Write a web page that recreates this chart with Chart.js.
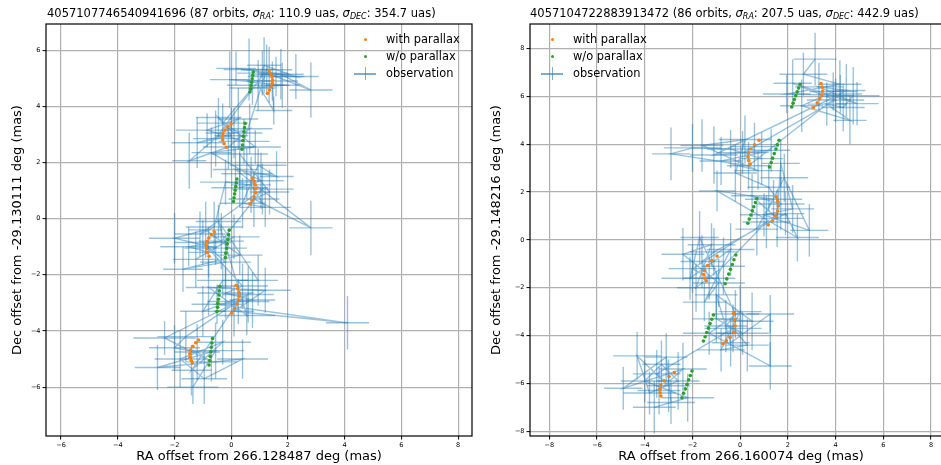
<!DOCTYPE html>
<html>
<head>
<meta charset="utf-8">
<script src="https://cdn.jsdelivr.net/npm/chart.js@4/dist/chart.umd.min.js"></script>
<style>
body{margin:0;background:#fff;width:941px;height:465px;overflow:hidden;position:relative;font-family:'DejaVu Sans',sans-serif;color:#000;}
.pane{position:absolute;top:0;width:480px;height:465px;}
.ttl{position:absolute;top:5px;font-size:11.5px;line-height:16px;white-space:nowrap;}
.ttl sub{font-size:8px;vertical-align:-2px;line-height:0;}
.leg{position:absolute;top:31px;font-size:11.4px;}
.leg .row{position:relative;height:17px;line-height:17px;width:130px;}
.leg .dot{position:absolute;left:9.5px;top:7px;width:3px;height:3px;border-radius:50%;}
.leg .lbl{position:absolute;left:32px;top:0;white-space:nowrap;}
.leg .hl{position:absolute;left:0;top:8px;width:22px;height:1.5px;background:rgba(31,119,180,0.6);}
.leg .vl{position:absolute;left:10.5px;top:2px;width:1.5px;height:13px;background:rgba(31,119,180,0.6);}
</style>
</head>
<body>
<div class="pane" style="left:0"><canvas id="cL" width="480" height="465"></canvas></div>
<div class="pane" style="left:480px"><canvas id="cR" width="480" height="465"></canvas></div>

<div class="ttl" style="left:47px">4057107746540941696 (87 orbits, <i>σ</i><sub><i>RA</i></sub>: 110.9 uas, <i>σ</i><sub><i>DEC</i></sub>: 354.7 uas)</div>
<div class="ttl" style="left:530px">4057104722883913472 (86 orbits, <i>σ</i><sub><i>RA</i></sub>: 207.5 uas, <i>σ</i><sub><i>DEC</i></sub>: 442.9 uas)</div>

<div class="leg" style="left:354px">
  <div class="row"><span class="dot" style="background:#ff7f0e"></span><span class="lbl">with parallax</span></div>
  <div class="row"><span class="dot" style="background:#2ca02c"></span><span class="lbl">w/o parallax</span></div>
  <div class="row"><span class="hl"></span><span class="vl"></span><span class="lbl">observation</span></div>
</div>
<div class="leg" style="left:541px">
  <div class="row"><span class="dot" style="background:#ff7f0e"></span><span class="lbl">with parallax</span></div>
  <div class="row"><span class="dot" style="background:#2ca02c"></span><span class="lbl">w/o parallax</span></div>
  <div class="row"><span class="hl"></span><span class="vl"></span><span class="lbl">observation</span></div>
</div>

<script>
// ===== left panel: 4057107746540941696 =====
const obsRA_L = [1.10,1.34,0.63,1.58,2.81,1.75,0.17,2.28,1.16,0.95,1.50,1.45,-0.05,1.80,0.75,
  -0.30,0.10,-0.55,1.25,0.45,-0.85,0.25,-1.48,-0.10,0.65,-1.20,0.00,-0.45,0.85,-0.70,
  0.55,1.05,0.30,0.30,1.35,0.80,2.81,0.15,1.60,0.95,0.40,1.20,0.70,-0.20,
  -0.60,-1.10,1.10,-0.35,-1.50,-0.80,0.10,-1.25,-0.55,-2.00,-0.90,0.30,-1.70,-0.20,-1.00,
  0.40,-0.20,0.75,-0.50,4.10,0.10,1.20,-0.80,0.55,-0.45,0.95,-0.30,-1.00,0.60,
  -1.60,-2.00,-1.20,-0.70,-2.35,0.25,-1.40,-0.30,-1.80,-0.95,0.40,-2.60,-0.55,-1.35];
const obsDec_L = [5.18,5.12,5.31,5.06,4.58,5.14,5.35,5.06,5.46,4.75,3.85,4.90,4.95,4.75,4.65,
  3.40,3.05,2.85,5.30,2.75,3.15,3.55,2.06,2.55,3.20,2.70,2.95,3.60,2.55,2.35,
  1.60,1.35,1.10,2.30,0.95,0.70,-0.33,1.75,1.50,1.90,0.55,0.40,1.20,1.30,
  -0.30,-0.55,1.05,-0.80,-1.00,-1.20,-0.65,-1.45,-1.05,-0.70,-0.40,-1.30,-1.80,-1.55,-0.85,
  -2.40,-2.65,-2.90,-3.05,-3.71,-3.30,-2.55,-2.45,-3.45,-0.10,-2.20,-2.20,-3.30,-2.70,
  -4.20,-4.60,-4.75,-5.10,-4.25,-2.95,-5.40,-4.40,-5.00,-5.70,-5.00,-5.30,-4.70,-6.00];
const errRA_L = [0.9,0.7,0.9,1.0,0.76,0.8,0.7,0.8,0.6,1.1,0.65,0.9,0.7,0.6,0.8,
  0.9,1.0,0.8,0.9,0.9,1.1,0.7,0.6,0.9,0.8,0.9,0.6,0.8,0.9,0.7,
  0.9,0.8,1.0,1.0,0.7,0.9,0.76,0.8,0.6,1.0,0.8,0.9,0.7,0.9,
  1.0,0.9,1.1,0.8,1.0,0.7,0.9,0.8,1.1,0.9,0.6,0.8,0.7,0.9,1.0,
  0.9,1.0,0.8,0.9,0.76,0.7,0.9,0.8,1.0,0.8,0.7,0.9,0.8,0.9,
  1.0,0.9,0.8,0.9,1.1,1.1,0.7,1.0,0.9,0.8,0.9,0.8,1.0,0.9];
const errDec_L = [0.8,1.0,1.1,0.7,0.98,0.9,0.6,0.8,1.0,0.9,0.5,0.7,1.0,0.8,0.6,
  0.7,0.9,1.0,0.9,0.8,0.6,1.1,1.0,0.8,0.9,0.9,1.0,0.7,0.6,0.9,
  0.9,1.0,0.7,0.7,0.8,1.0,0.97,0.8,0.9,0.6,0.9,0.7,1.0,0.8,
  0.9,0.8,0.9,1.0,0.7,0.9,0.8,1.0,0.6,0.9,1.0,0.7,0.8,0.9,0.8,
  0.8,0.9,1.0,0.7,0.95,0.9,0.8,1.0,0.7,0.6,0.9,0.6,0.9,1.0,
  0.9,0.8,1.0,0.7,0.6,0.8,0.9,0.8,1.0,0.9,0.7,0.8,1.0,0.6];
const plxRA_L = [1.34,1.40,1.44,1.46,1.45,1.41,1.35,1.28, -0.01,-0.12,-0.22,-0.29,-0.31,-0.30,-0.25,-0.17,
  0.75,0.81,0.85,0.87,0.86,0.81,0.74,0.66, -0.60,-0.70,-0.79,-0.85,-0.88,-0.87,-0.83,-0.78,
  0.17,0.23,0.27,0.28,0.26,0.20,0.12,0.02, -1.15,-1.25,-1.35,-1.43,-1.46,-1.45,-1.41,-1.37];
const plxDec_L = [5.26,5.15,5.04,4.93,4.82,4.70,4.58,4.46, 3.37,3.27,3.15,3.03,2.92,2.80,2.67,2.54,
  1.44,1.33,1.20,1.07,0.93,0.78,0.65,0.53, -0.47,-0.57,-0.69,-0.81,-0.95,-1.08,-1.21,-1.34,
  -2.38,-2.50,-2.63,-2.76,-2.90,-3.05,-3.21,-3.37, -4.32,-4.42,-4.55,-4.68,-4.81,-4.94,-5.05,-5.14];
const noPlxRA_L = [0.78,0.76,0.74,0.72,0.70,0.68,0.66, 0.49,0.47,0.45,0.43,0.41,0.40,0.38,
  0.20,0.18,0.16,0.14,0.12,0.10,0.08, -0.07,-0.09,-0.12,-0.14,-0.16,-0.19,-0.21,
  -0.40,-0.42,-0.43,-0.45,-0.47,-0.48,-0.50, -0.66,-0.68,-0.70,-0.72,-0.74,-0.76,-0.78];
const noPlxDec_L = [5.22,5.10,4.98,4.86,4.74,4.62,4.51, 3.39,3.24,3.09,2.93,2.78,2.62,2.47,
  1.41,1.28,1.14,1.01,0.88,0.74,0.61, -0.41,-0.57,-0.74,-0.90,-1.06,-1.23,-1.39,
  -2.42,-2.57,-2.72,-2.87,-3.01,-3.16,-3.31, -4.27,-4.43,-4.58,-4.74,-4.90,-5.05,-5.21];

// ===== right panel: 4057104722883913472 =====
const obsRA_R = [3.14,2.65,4.18,1.95,4.74,4.32,3.63,4.60,2.58,3.90,4.45,3.30,4.90,2.20,4.00,
  0.60,0.10,0.90,-0.40,-2.00,-2.90,0.35,4.20,-1.10,1.30,-0.80,0.75,-1.60,0.20,-0.20,
  1.20,1.70,0.50,1.55,1.70,2.20,1.00,2.90,1.85,0.70,1.40,-0.97,2.40,1.90,
  -1.10,-1.60,-1.30,-2.00,1.10,-0.70,-1.85,-1.20,-2.40,-0.90,-1.50,-0.40,-2.10,-1.70,
  -0.20,-0.60,0.10,-1.00,0.50,-1.00,-0.40,1.26,1.26,-1.30,0.00,-0.80,0.30,-0.30,
  -3.50,-3.00,-4.32,-3.80,-2.60,-3.30,-4.00,-2.20,-3.60,-2.90,-3.10,-4.90,-2.40,-3.40];
const obsDec_R = [7.56,6.93,6.51,6.10,6.03,5.54,5.68,5.00,5.61,6.20,6.25,6.40,5.70,6.55,5.85,
  3.90,3.65,3.40,3.80,3.85,3.60,3.10,6.10,3.55,3.75,3.30,2.90,3.95,4.20,2.80,
  2.20,1.50,1.85,0.90,3.20,1.30,1.05,0.40,2.60,0.45,1.70,2.05,0.10,1.10,
  -0.50,-0.90,-1.60,-1.20,0.75,-1.10,-2.00,-0.20,-0.60,-1.80,-2.60,-0.40,-1.60,0.10,
  -3.10,-3.60,-3.90,-3.30,-3.40,-2.30,-4.30,-3.10,-5.27,-3.90,-3.00,-4.60,-4.40,-3.70,
  -5.60,-6.10,-4.85,-6.40,-5.90,-5.20,-5.90,-6.60,-7.00,-6.80,-4.90,-6.20,-5.40,-6.30];
const errRA_R = [0.9,1.0,0.9,1.0,1.1,0.9,0.8,0.7,0.9,1.0,0.8,1.0,0.9,0.8,1.2,
  1.0,1.1,0.9,1.0,1.2,0.8,0.9,0.9,1.0,0.8,0.9,1.0,0.9,1.1,0.9,
  0.9,1.0,0.9,1.1,0.8,0.9,1.0,0.8,1.0,0.9,1.2,0.75,0.9,0.8,
  1.0,0.9,1.1,1.0,1.0,0.9,0.8,1.0,0.9,1.1,0.9,1.0,1.2,0.8,
  1.0,0.9,1.1,1.0,0.9,0.9,0.8,1.0,0.9,1.1,0.9,1.0,0.9,1.2,
  1.0,0.9,1.0,1.1,0.9,0.8,1.0,1.1,0.9,1.0,0.9,0.8,1.0,0.9];
const errDec_R = [1.1,0.9,1.0,0.8,1.2,1.0,0.9,1.0,1.1,0.8,1.1,1.0,0.9,1.0,0.9,
  1.0,0.9,1.1,0.8,1.0,1.1,1.0,0.8,1.2,0.9,1.0,0.8,1.1,1.0,1.2,
  1.0,1.1,0.9,1.2,1.0,1.0,0.9,1.1,1.0,1.1,0.8,0.85,1.0,0.9,
  1.0,1.1,0.9,1.0,1.1,1.2,1.0,0.9,1.1,1.0,0.8,1.1,0.9,1.1,
  1.0,1.1,0.9,1.0,1.2,1.0,1.0,0.8,1.0,0.9,1.1,0.9,1.1,1.0,
  1.0,1.1,1.0,0.9,1.2,1.0,0.9,1.0,1.1,0.9,1.0,0.9,1.1,1.0];
const plxRA_R = [3.39,3.44,3.46,3.42,3.34,3.23,3.07, 0.79,0.60,0.44,0.35,0.33,0.36,0.42,
  1.51,1.57,1.60,1.57,1.48,1.35,1.18, -0.97,-1.18,-1.37,-1.50,-1.53,-1.49,-1.42,
  -0.28,-0.23,-0.21,-0.28,-0.42,-0.58,-0.72, -2.76,-2.98,-3.18,-3.33,-3.36,-3.35,-3.32];
const plxDec_R = [6.54,6.39,6.23,6.06,5.90,5.73,5.54, 4.17,3.98,3.80,3.65,3.48,3.32,3.17,
  1.80,1.62,1.42,1.21,1.00,0.80,0.63, -0.67,-0.86,-1.07,-1.28,-1.45,-1.60,-1.72,
  -3.08,-3.33,-3.60,-3.85,-4.07,-4.22,-4.34, -5.55,-5.71,-5.89,-6.07,-6.24,-6.39,-6.53];
const noPlxRA_R = [2.51,2.45,2.39,2.33,2.27,2.22,2.16, 1.63,1.56,1.50,1.43,1.36,1.30,1.23,
  0.70,0.64,0.57,0.51,0.45,0.38,0.32, -0.18,-0.26,-0.33,-0.41,-0.48,-0.56,-0.63,
  -1.12,-1.19,-1.26,-1.33,-1.40,-1.47,-1.54, -2.02,-2.09,-2.16,-2.23,-2.30,-2.37,-2.44];
const noPlxDec_R = [6.51,6.35,6.19,6.03,5.87,5.72,5.56, 4.17,3.98,3.80,3.61,3.42,3.24,3.05,
  1.73,1.56,1.39,1.22,1.04,0.87,0.70, -0.63,-0.83,-1.03,-1.23,-1.43,-1.63,-1.83,
  -3.14,-3.32,-3.50,-3.69,-3.87,-4.05,-4.23, -5.48,-5.67,-5.85,-6.04,-6.23,-6.41,-6.60];

const C={blue:'rgba(31,119,180,0.45)',orange:'#ff7f0e',green:'#2ca02c',grid:'#b0b0b0'};
const pts=(xs,ys)=>xs.map((v,i)=>({x:v,y:ys[i]}));
const minus=v=>v<0?'\u2212'+Math.abs(v):String(v);

// error bars drawn under the data, through the chart's own scales
function errBars(ra,dec,eRA,eDec){
  return {id:'errBars',beforeDatasetsDraw(ch){
    const {ctx,chartArea:a,scales:{x,y}}=ch;
    ctx.save(); ctx.beginPath(); ctx.rect(a.left,a.top,a.width,a.height); ctx.clip();
    ctx.strokeStyle=C.blue; ctx.lineWidth=1.4;
    ra.forEach((r,i)=>{
      const px=x.getPixelForValue(r), py=y.getPixelForValue(dec[i]);
      ctx.beginPath(); ctx.moveTo(x.getPixelForValue(r-eRA[i]),py); ctx.lineTo(x.getPixelForValue(r+eRA[i]),py); ctx.stroke();
      ctx.beginPath(); ctx.moveTo(px,y.getPixelForValue(dec[i]-eDec[i])); ctx.lineTo(px,y.getPixelForValue(dec[i]+eDec[i])); ctx.stroke();
    });
    ctx.restore();
  }};
}
const frame={id:'frame',afterDatasetsDraw(ch){
  const {ctx,chartArea:a}=ch; ctx.save(); ctx.strokeStyle='#000'; ctx.lineWidth=1.2;
  ctx.strokeRect(a.left,a.top,a.width,a.height); ctx.restore();
}};

function panel(id,o){
  const axis=(min,max,title,fit,pad)=>({type:'linear',min,max,afterFit:fit,
    ticks:{stepSize:2,includeBounds:false,padding:pad,color:'#000',font:{family:'DejaVu Sans',size:6.5},callback:minus,maxRotation:0},
    grid:{color:C.grid,lineWidth:1.2,tickColor:'#000',tickLength:3.5,tickWidth:1},
    border:{display:false},
    title:{display:true,text:title,color:'#000',font:{family:'DejaVu Sans',size:13},padding:o.tpad}});
  return new Chart(document.getElementById(id),{type:'scatter',
    data:{datasets:[
      {label:'with parallax',data:pts(o.pRA,o.pDec),pointRadius:1.8,pointBorderWidth:0,pointBackgroundColor:C.orange},
      {label:'w/o parallax',data:pts(o.nRA,o.nDec),pointRadius:1.8,pointBorderWidth:0,pointBackgroundColor:C.green},
      {label:'observation',data:pts(o.ra,o.dec),showLine:true,borderColor:C.blue,borderWidth:1.4,pointRadius:0,tension:0}
    ]},
    options:{responsive:false,animation:false,devicePixelRatio:1,
      layout:{padding:{top:24,right:8,left:0,bottom:0}},
      plugins:{legend:{display:false},tooltip:{enabled:false}},
      scales:{
        x:axis(o.xr[0],o.xr[1],o.xt,s=>{s.height=29;},1.5),
        y:axis(o.yr[0],o.yr[1],o.yt,s=>{s.width=o.yw;},2)
      }},
    plugins:[errBars(o.ra,o.dec,o.eRA,o.eDec),frame]});
}

panel('cL',{ra:obsRA_L,dec:obsDec_L,eRA:errRA_L,eDec:errDec_L,pRA:plxRA_L,pDec:plxDec_L,nRA:noPlxRA_L,nDec:noPlxDec_L,
  xr:[-6.53,8.49],yr:[-7.74,6.93],yw:46,tpad:{top:10,bottom:1},
  xt:'RA offset from 266.128487 deg (mas)',yt:'Dec offset from -29.130111 deg (mas)'});
panel('cR',{ra:obsRA_R,dec:obsDec_R,eRA:errRA_R,eDec:errDec_R,pRA:plxRA_R,pDec:plxDec_R,nRA:noPlxRA_R,nDec:noPlxDec_R,
  xr:[-8.81,8.88],yr:[-8.2,9.03],yw:50,tpad:{top:9,bottom:1},
  xt:'RA offset from 266.160074 deg (mas)',yt:'Dec offset from -29.148216 deg (mas)'});
</script>
</body>
</html>
